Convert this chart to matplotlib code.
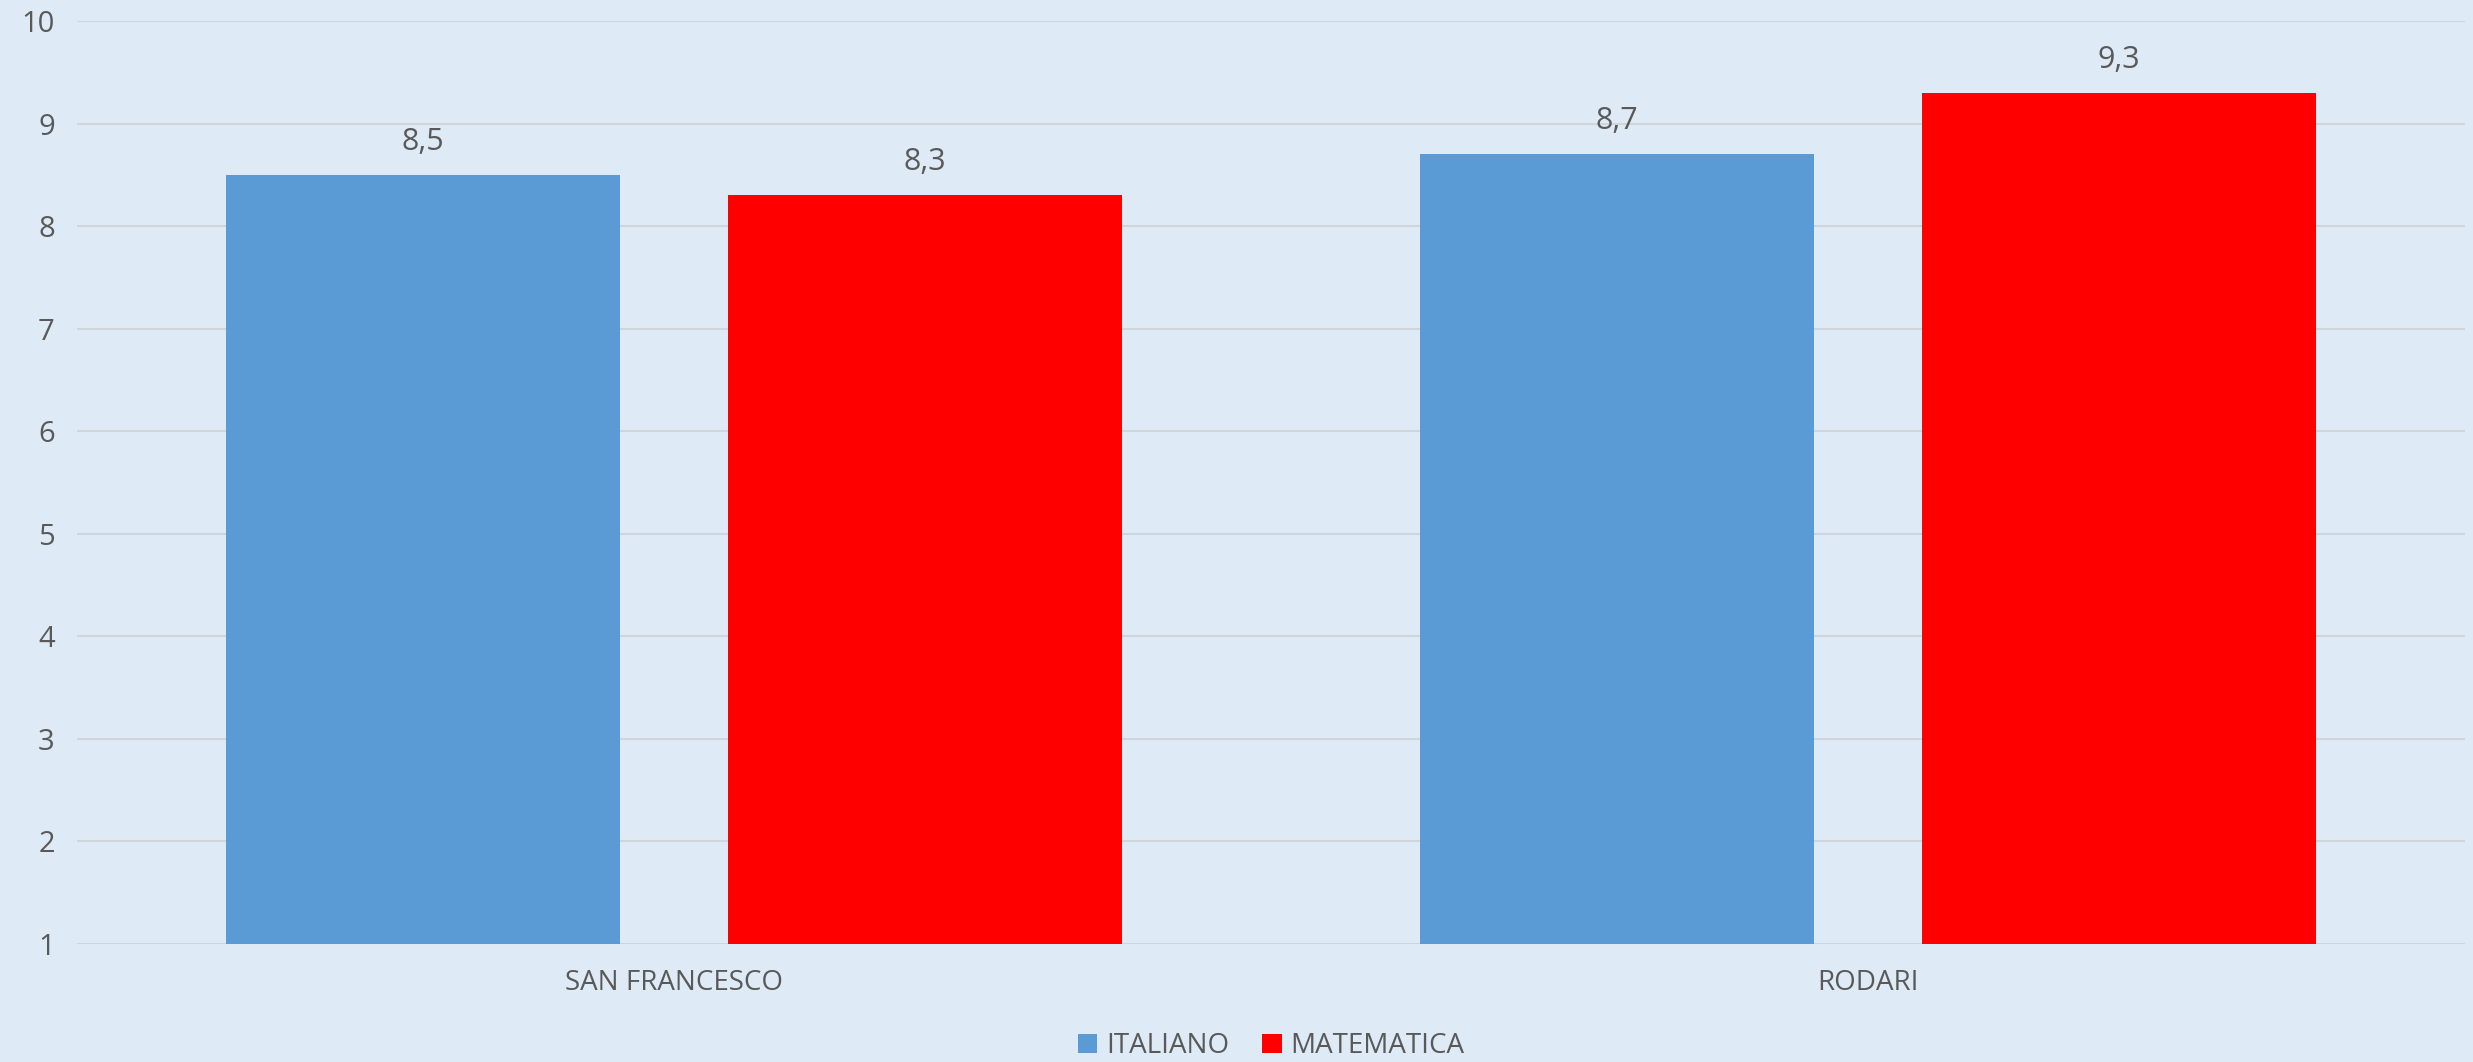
import matplotlib.pyplot as plt
import numpy as np

categories = ['SAN FRANCESCO', 'RODARI']
series_names = ['ITALIANO', 'MATEMATICA']
italiano = [8.5, 8.7]
matematica = [8.3, 9.3]
yticks = [1, 2, 3, 4, 5, 6, 7, 8, 9, 10]

bg = '#DEEAF6'
txt = '#595959'
colors = ['#5B9BD5', '#FF0000']

plt.rcParams['font.family'] = ['Open Sans', 'DejaVu Sans']

fig = plt.figure(figsize=(24.73, 10.62), dpi=100, facecolor=bg)
ax = fig.add_axes([77 / 2473, 1 - 944 / 1062, (2465 - 77) / 2473, (944 - 21) / 1062])
ax.set_facecolor(bg)

x = np.arange(len(categories))
w = 0.33
off = 0.21
for i, (vals, name) in enumerate(zip([italiano, matematica], series_names)):
    pos = x + (off if i else -off)
    ax.bar(pos, np.array(vals) - 1, bottom=1, width=w, color=colors[i], label=name, zorder=3)
    for p, v in zip(pos, vals):
        ax.annotate(f'{v:.1f}'.replace('.', ','), (p, v), xytext=(0, 13), textcoords='offset points',
                    ha='center', va='bottom', fontsize=22, color=txt)

ax.set_xlim(-0.5, 1.5)
ax.set_ylim(1, 10)
ax.set_yticks(yticks)
ax.set_yticklabels([str(t) for t in yticks], fontsize=21, color=txt)
ax.set_xticks(x)
ax.set_xticklabels(categories, fontsize=20, color=txt)
ax.tick_params(axis='both', length=0)
ax.tick_params(axis='x', pad=18)
ax.tick_params(axis='y', pad=16)
ax.grid(axis='y', color='#D0D5DA', linewidth=1.5, zorder=0)
for s in ax.spines.values():
    s.set_visible(False)

leg = ax.legend(loc='center', bbox_to_anchor=(0.5, (944 - 1046) / (944 - 21)), ncol=2, frameon=False,
                fontsize=20, handlelength=0.7, handleheight=0.7, handletextpad=0.3, columnspacing=1.2)
for t in leg.get_texts():
    t.set_color(txt)

fig.savefig('out.png', dpi=100, facecolor=bg)
